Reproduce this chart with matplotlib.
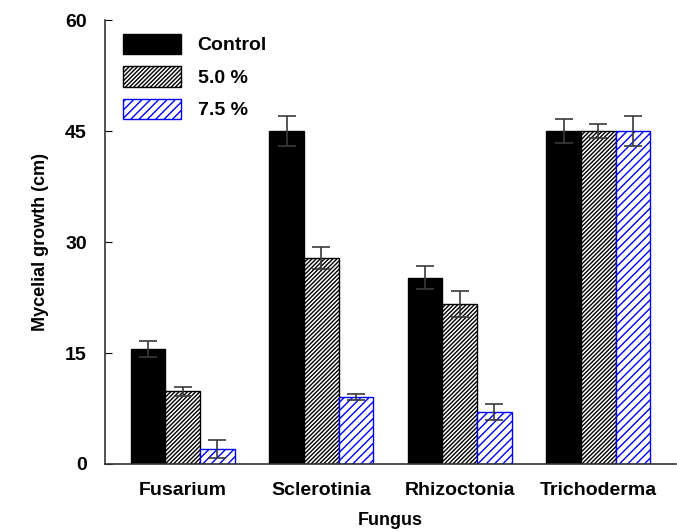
import matplotlib.pyplot as plt
import numpy as np

plt.rcParams['font.family'] = ['Liberation Sans', 'DejaVu Sans']
plt.rcParams['font.weight'] = 'bold'
plt.rcParams['hatch.linewidth'] = 1.0

# Data
fungi = ['Fusarium', 'Sclerotinia', 'Rhizoctonia', 'Trichoderma']
treatments = ['Control', '5.0 %', '7.5 %']
control = [15.5, 45.0, 25.2, 45.0]
conc_50 = [9.8, 27.8, 21.6, 45.0]
conc_75 = [2.0, 9.0, 7.0, 45.0]
err_control = [1.1, 2.0, 1.5, 1.6]
err_50 = [0.6, 1.5, 1.8, 1.0]
err_75 = [1.2, 0.4, 1.1, 2.0]

fig = plt.figure(figsize=(6.77, 5.31), dpi=100)
ax = fig.add_axes([105 / 677, 67 / 531, 571 / 677, 444 / 531])

x = np.arange(len(fungi))
w = 0.25
err_kw = dict(ecolor='#3a3a3a', elinewidth=1.2, capsize=6.5, capthick=1.2)

ax.bar(x - w, control, w, yerr=err_control, color='black', edgecolor='black',
       linewidth=1, label=treatments[0], error_kw=err_kw)
ax.bar(x, conc_50, w, yerr=err_50, color='white', edgecolor='black',
       hatch='////////', linewidth=1, label=treatments[1], error_kw=err_kw)
ax.bar(x + w, conc_75, w, yerr=err_75, color='white', edgecolor='blue',
       hatch='////', linewidth=1, label=treatments[2], error_kw=err_kw)

ax.set_xlim(-0.56, 3.56)
ax.set_ylim(0, 60)
ax.set_yticks([0, 15, 30, 45, 60])
ax.set_xticks(x)
ax.set_xticklabels(fungi)
ax.tick_params(axis='x', length=0, pad=13, labelsize=14)
ax.tick_params(axis='y', direction='in', length=5, pad=13, labelsize=14)

for side in ['top', 'right']:
    ax.spines[side].set_visible(False)
for side in ['left', 'bottom']:
    ax.spines[side].set_color('#333333')
    ax.spines[side].set_linewidth(1.2)

ax.set_ylabel('Mycelial growth (cm)', fontsize=13, fontweight='bold', labelpad=12)
ax.set_xlabel('Fungus', fontsize=13, fontweight='bold', labelpad=9)

ax.legend(loc='upper left', bbox_to_anchor=(0.008, 1.0), frameon=False,
          fontsize=14, handlelength=2.95, handleheight=1.25,
          handletextpad=0.88, labelspacing=0.6, borderaxespad=0.3)

fig.savefig('out.png', dpi=100)
